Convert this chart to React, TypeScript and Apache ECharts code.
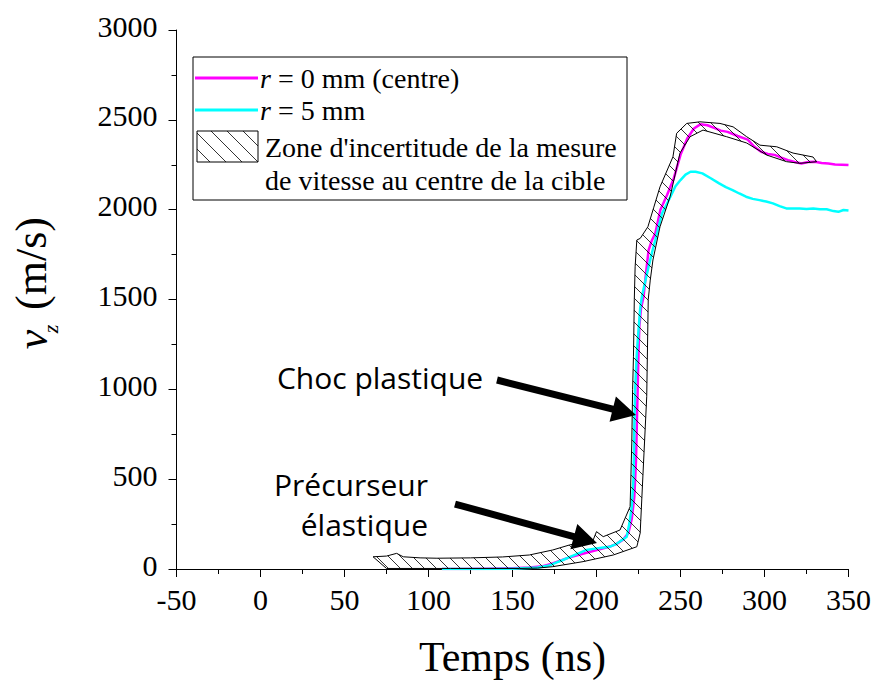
import React, { useEffect, useRef } from 'react';
import * as echarts from 'echarts';

// ---- axes ----
const X_MIN = -50;
const X_MAX = 350;
const X_STEP = 50;
const Y_MIN = 0;
const Y_MAX = 3000;
const Y_STEP = 500;

// ---- series: time (ns), velocity (m/s) ----
const CENTRE: [number, number][] = [
  [108, 0], [120, 0], [135, 2], [150, 4], [160, 8], [168, 15], [173, 28], [178, 45],
  [183, 62], [188, 75], [193, 88], [198, 100], [203, 112], [208, 125], [212, 140],
  [216, 165], [219, 200], [221, 280], [222.5, 400], [223.5, 600], [224, 800],
  [224.5, 1000], [225, 1200], [225.5, 1350], [226.5, 1450], [228, 1515], [229.5, 1650],
  [231, 1775], [233, 1830], [235, 1868], [238, 1998], [242, 2082], [246, 2174],
  [250, 2305], [254, 2396], [258, 2452], [262, 2476], [266, 2470], [270, 2455],
  [274, 2440], [278, 2433], [284, 2410], [290, 2390], [294, 2350], [298, 2322],
  [302, 2310], [306, 2305], [310, 2290], [314, 2276], [318, 2265], [322, 2257],
  [326, 2265], [330, 2267], [334, 2260], [338, 2257], [342, 2252], [346, 2250], [350, 2248],
];

const R5: [number, number][] = [
  [108, 0], [120, 0], [135, 0], [150, 2], [165, 8], [172, 20], [176, 35], [180, 50],
  [185, 70], [190, 90], [194, 106], [198, 112], [203, 118], [208, 124], [212, 140],
  [215, 160], [218, 180], [219.5, 250], [221, 347], [222, 500], [222.5, 773],
  [223, 1000], [224, 1200], [225, 1330], [226, 1450], [227, 1515], [229, 1600],
  [231, 1682], [233, 1760], [235, 1831], [237, 1905], [239, 1979], [244, 2072],
  [247, 2130], [250, 2165], [253, 2195], [256, 2211], [259, 2211], [263, 2202],
  [268, 2175], [273, 2146], [277, 2125], [281, 2109], [285, 2090], [289, 2072],
  [293, 2060], [297, 2053], [301, 2045], [305, 2035], [309, 2020], [313, 2007],
  [317, 2007], [321, 2007], [325, 2004], [329, 2007], [333, 2002], [337, 2002],
  [341, 1992], [344, 1988], [347, 1998], [350, 1995],
];

// ---- uncertainty zone boundaries ----
const BAND_UPPER: [number, number][] = [
  [67, 68], [75, 72], [81, 87], [85, 68], [95, 62], [105, 60], [125, 62], [144, 67],
  [160, 78], [174, 106], [184, 134], [198, 161], [200, 208], [204, 180], [214, 217],
  [220, 347], [221, 701], [221.5, 1000], [222, 1181], [222.5, 1500], [223, 1682],
  [224, 1831], [226, 1840], [230.6, 1905], [234, 2010], [237.8, 2127], [245.5, 2294],
  [247.7, 2425], [253.7, 2480], [261.6, 2489], [273.5, 2480], [281.3, 2461],
  [289.4, 2406], [297.3, 2359], [307.3, 2350], [317, 2315], [328.9, 2293], [331, 2267],
];
const BAND_LOWER: [number, number][] = [
  [75, 3], [113, 3], [154, 3], [165, 5], [174, 13], [192, 41], [210, 78], [224, 124],
  [226, 200], [227.7, 534], [229.9, 959], [230.8, 1500], [232, 1608], [233.6, 1720],
  [237.8, 1905], [243.8, 2072], [249.7, 2315], [255.7, 2406], [263.4, 2443],
  [277.5, 2406], [289.4, 2371], [301.3, 2304], [313.2, 2267], [321.1, 2258], [331, 2267],
];

const LEGEND_LABELS = [
  '{i|r} = 0 mm (centre)',
  '{i|r} = 5 mm',
  "Zone d'incertitude de la mesure",
  'de vitesse au centre de la cible',
];

const SERIF = 'Liberation Serif';
const SANS = 'Open Sans';

function hatchPattern(size: number) {
  const svg = `<svg xmlns="http://www.w3.org/2000/svg" width="${size}" height="${size}"><path d="M-1,-1 L${size + 1},${size + 1} M-1,${size - 1} L1,${size + 1} M${size - 1},-1 L${size + 1},1" stroke="black" stroke-width="0.8" fill="none"/></svg>`;
  return {
    image: 'data:image/svg+xml;charset=utf-8,' + encodeURIComponent(svg),
    repeat: 'repeat',
    imageWidth: size,
    imageHeight: size,
  } as any;
}

function arrowPoints(x1: number, y1: number, x2: number, y2: number, shaft = 7, headLen = 24, headW = 26) {
  const dx = x2 - x1;
  const dy = y2 - y1;
  const L = Math.hypot(dx, dy);
  const ux = dx / L;
  const uy = dy / L;
  const nx = -uy;
  const ny = ux;
  const bx = x2 - ux * headLen;
  const by = y2 - uy * headLen;
  const s = shaft / 2;
  const h = headW / 2;
  return [
    [x1 + nx * s, y1 + ny * s],
    [bx + nx * s, by + ny * s],
    [bx + nx * h, by + ny * h],
    [x2, y2],
    [bx - nx * h, by - ny * h],
    [bx - nx * s, by - ny * s],
    [x1 - nx * s, y1 - ny * s],
  ];
}

export default function App() {
  const ref = useRef<HTMLDivElement>(null);

  useEffect(() => {
    if (!ref.current) return;
    const chart = echarts.init(ref.current, null, { renderer: 'svg' });
    const bandHatch = hatchPattern(12);
    const legendHatch = hatchPattern(16);

    const axisCommon = {
      axisLine: { show: true, onZero: false, lineStyle: { color: '#000', width: 1 } },
      axisTick: { show: true, inside: false, length: 8, lineStyle: { color: '#000', width: 1 } },
      minorTick: { show: true, splitNumber: 2, length: 5, lineStyle: { color: '#000', width: 1 } },
      splitLine: { show: false },
      minorSplitLine: { show: false },
    };

    const option: any = {
      animation: false,
      backgroundColor: '#fff',
      textStyle: { fontFamily: SERIF, color: '#000' },
      grid: {
        left: 176.5, right: 26.5, top: 30, bottom: 111,
        containLabel: false, outerBoundsMode: 'none',
      },
      xAxis: {
        type: 'value',
        min: X_MIN,
        max: X_MAX,
        interval: X_STEP,
        ...axisCommon,
        axisLabel: {
          color: '#000', fontFamily: SERIF, fontSize: 30, margin: 15,
          formatter: (v: number) => `{t|${v}}`,
          rich: { t: { fontFamily: SERIF, fontSize: 30, color: '#000' } },
        },
        name: 'Temps (ns)',
        nameLocation: 'middle',
        nameGap: 67,
        nameTextStyle: { color: '#000', fontFamily: SERIF, fontSize: 42 },
      },
      yAxis: {
        type: 'value',
        min: Y_MIN,
        max: Y_MAX,
        interval: Y_STEP,
        ...axisCommon,
        axisLabel: {
          color: '#000', fontFamily: SERIF, fontSize: 30, margin: 19,
          formatter: (v: number) => `{t|${v}}`,
          rich: { t: { fontFamily: SERIF, fontSize: 30, color: '#000', lineHeight: 30, padding: [0, 0, 8, 0] } },
        },
      },
      series: [
        {
          name: 'r = 0 mm (centre)',
          type: 'line',
          data: CENTRE,
          showSymbol: false,
          symbol: 'none',
          lineStyle: { color: '#ff00ff', width: 2.5 },
          z: 2,
        },
        {
          name: 'r = 5 mm',
          type: 'line',
          data: R5,
          showSymbol: false,
          symbol: 'none',
          lineStyle: { color: '#00ffff', width: 2.5 },
          z: 3,
        },
        {
          name: "Zone d'incertitude",
          type: 'custom',
          z: 4,
          silent: true,
          clip: false,
          data: [BAND_UPPER[0]],
          encode: { x: 0, y: 1 },
          renderItem: (_params: any, api: any) => {
            const pts = BAND_UPPER.concat(BAND_LOWER.slice(0, -1).reverse()).map((p) => api.coord(p));
            return {
              type: 'polygon',
              shape: { points: pts },
              style: { fill: bandHatch, stroke: '#000', lineWidth: 1 },
            };
          },
        },
      ],
      graphic: [
        // legend box
        { type: 'rect', shape: { x: 193, y: 57, width: 434, height: 143 }, style: { fill: '#fff', stroke: '#000', lineWidth: 1 }, z: 10 },
        { type: 'line', shape: { x1: 195, y1: 78, x2: 258, y2: 78 }, style: { stroke: '#ff00ff', lineWidth: 3 }, z: 11 },
        { type: 'line', shape: { x1: 195, y1: 110, x2: 258, y2: 110 }, style: { stroke: '#00ffff', lineWidth: 3 }, z: 11 },
        { type: 'rect', shape: { x: 197, y: 131, width: 61, height: 31 }, style: { fill: legendHatch, stroke: '#000', lineWidth: 1 }, z: 11 },
        ...LEGEND_LABELS.map((t, i) => ({
          type: 'text',
          x: i < 2 ? 260 : 265,
          y: [78, 110, 147, 180][i],
          z: 11,
          style: {
            text: t,
            fill: '#000',
            fontFamily: SERIF,
            fontSize: 28,
            textAlign: 'left',
            verticalAlign: 'middle',
            rich: { i: { fontStyle: 'italic', fontFamily: SERIF, fontSize: 28, fill: '#000' } },
          },
        })),
        // y axis title
        { type: 'text', x: 31, y: 263.5, rotation: Math.PI / 2, z: 11,
          style: { text: '(m/s)', fill: '#000', fontFamily: SERIF, fontSize: 44, textAlign: 'center', verticalAlign: 'middle' } },
        { type: 'text', x: 32, y: 339.5, rotation: Math.PI / 2, z: 11,
          style: { text: 'v', fill: '#000', fontFamily: SERIF, fontStyle: 'italic', fontSize: 44, textAlign: 'center', verticalAlign: 'middle' } },
        { type: 'text', x: 50.5, y: 329, rotation: Math.PI / 2, z: 11,
          style: { text: 'z', fill: '#000', fontFamily: SERIF, fontStyle: 'italic', fontSize: 22, textAlign: 'center', verticalAlign: 'middle' } },
        // annotations
        { type: 'text', x: 380, y: 377, z: 11,
          style: { text: 'Choc plastique', fill: '#000', fontFamily: SANS, fontSize: 30, textAlign: 'center', verticalAlign: 'middle' } },
        { type: 'text', x: 428, y: 484, z: 11,
          style: { text: 'Précurseur', fill: '#000', fontFamily: SANS, fontSize: 30, textAlign: 'right', verticalAlign: 'middle' } },
        { type: 'text', x: 428, y: 524, z: 11,
          style: { text: 'élastique', fill: '#000', fontFamily: SANS, fontSize: 30, textAlign: 'right', verticalAlign: 'middle' } },
        { type: 'polygon', z: 12, shape: { points: arrowPoints(497, 380, 636, 415) }, style: { fill: '#000' } },
        { type: 'polygon', z: 12, shape: { points: arrowPoints(455, 504, 597, 543) }, style: { fill: '#000' } },
      ],
    };

    chart.setOption(option);
    return () => chart.dispose();
  }, []);

  return <div ref={ref} style={{ position: 'fixed', left: 0, top: 0, width: 875, height: 680 }} />;
}
